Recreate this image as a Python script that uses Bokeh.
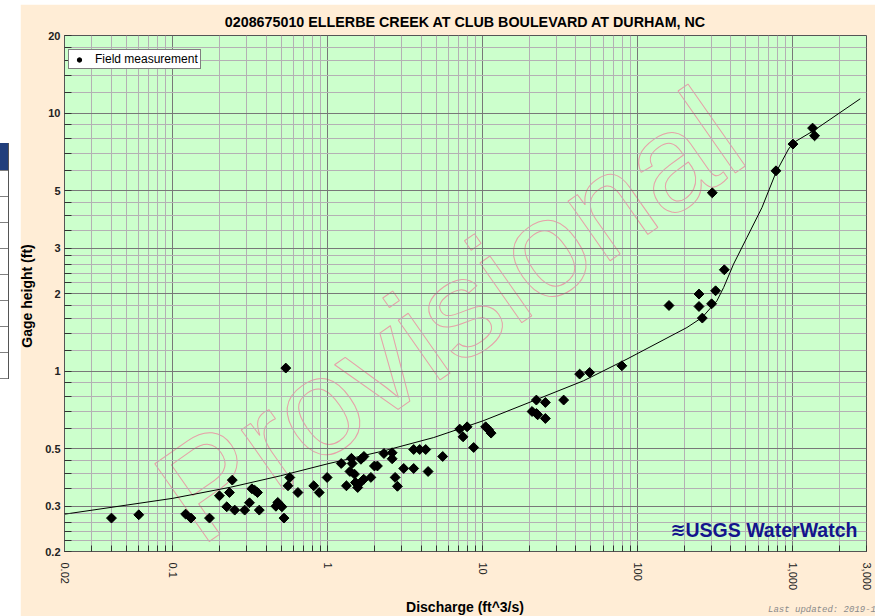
from bokeh.plotting import figure
from bokeh.models import FixedTicker, Legend, LegendItem, Label, Spacer, ColumnDataSource, Div
from bokeh.layouts import row, column
from bokeh.embed import file_html
from bokeh.resources import INLINE

title_text = "0208675010 ELLERBE CREEK AT CLUB BOULEVARD AT DURHAM, NC"
x_label = "Discharge (ft^3/s)"
y_label = "Gage height (ft)"
legend_label = "Field measurement"
watermark_text = "Provisional"
logo_text = "USGS WaterWatch"
updated_text = "Last updated: 2019-1"

# field measurements (discharge, gage height)
meas_q = [0.0402, 0.0603, 0.121, 0.131, 0.1725, 0.200, 0.223, 0.232, 0.242, 0.251,
          0.291, 0.3125, 0.324, 0.338, 0.352, 0.3615, 0.463, 0.476, 0.506, 0.522,
          0.536, 0.554, 0.569, 0.642, 0.812, 0.881, 0.991, 1.222, 1.320, 1.391,
          1.422, 1.437, 1.487, 1.509, 1.561, 1.585, 1.637, 1.712, 1.707, 1.899,
          2.001, 2.092, 2.305, 2.604, 2.604, 2.722, 2.817, 3.093, 3.587, 3.587,
          3.922, 4.288, 4.443, 5.52, 7.105, 7.472, 7.932, 8.747, 10.45, 10.93,
          11.33, 20.83, 22.21, 22.21, 22.64, 25.38, 25.38, 33.31, 42.25, 49.01,
          79.1, 159.4, 248.9, 248.9, 261.5, 300.2, 318.6, 362.6, 303.3, 781.4,
          1006, 1346, 1387]
meas_h = [0.2695, 0.2775, 0.2793, 0.2695, 0.2695, 0.3288, 0.2981, 0.3386, 0.3783, 0.2894,
          0.2894, 0.309, 0.350, 0.3453, 0.3386, 0.2894, 0.2995, 0.3098, 0.2981, 0.2695,
          1.028, 0.3595, 0.3872, 0.3386, 0.3595, 0.3386, 0.3872, 0.4387, 0.3595, 0.4086,
          0.4595, 0.4387, 0.399, 0.3702, 0.3541, 0.365, 0.4555, 0.4672, 0.381, 0.3875,
          0.429, 0.429, 0.4796, 0.4827, 0.4575, 0.3875, 0.3579, 0.4197, 0.497, 0.4195,
          0.497, 0.497, 0.4084, 0.467, 0.5963, 0.5566, 0.6086, 0.506, 0.6086, 0.5925,
          0.5753, 0.6977, 0.7726, 0.6854, 0.6774, 0.7562, 0.6555, 0.7726, 0.9741, 0.9881,
          1.049, 1.797, 1.990, 1.781, 1.606, 1.824, 2.049, 2.471, 4.913, 5.978,
          7.589, 8.753, 8.171]

# rating curve
rating_q = [0.02, 0.1, 0.236, 0.495, 1.0, 2.30, 4.83, 10.06, 21.3, 44.8, 85.4, 208, 261,
            325, 359, 416, 508, 635, 781, 942, 1015, 1366, 2734]
rating_h = [0.279, 0.3215, 0.355, 0.393, 0.4375, 0.491, 0.553, 0.642, 0.768, 0.918, 1.114,
            1.476, 1.615, 1.874, 2.11, 2.60, 3.30, 4.31, 5.89, 7.26, 7.69, 8.55, 11.37]

x_tick_values = [0.02, 0.1, 1, 10, 100, 1000, 3000]
x_tick_labels = ["0.02", "0.1", "1", "10", "100", "1,000", "3,000"]
x_decades = [0.1, 1, 10, 100, 1000]
x_minor_ticks = [0.03, 0.04, 0.05, 0.06, 0.07, 0.08, 0.09,
                 0.2, 0.3, 0.4, 0.5, 0.6, 0.7, 0.8, 0.9,
                 2, 3, 4, 5, 6, 7, 8, 9,
                 20, 30, 40, 50, 60, 70, 80, 90,
                 200, 300, 400, 500, 600, 700, 800, 900, 2000]
y_tick_values = [0.2, 0.3, 0.5, 1, 2, 3, 5, 10, 20]
y_tick_labels = ["0.2", "0.3", "0.5", "1", "2", "3", "5", "10", "20"]
y_grid_major = [0.3, 0.5, 1, 2, 3, 5, 10]
y_minor_ticks = [0.22, 0.24, 0.26, 0.28, 0.35, 0.4, 0.45, 0.6, 0.7, 0.8, 0.9,
                 1.2, 1.4, 1.6, 1.8, 2.2, 2.4, 2.6, 2.8, 3.5, 4, 4.5, 6, 7, 8, 9,
                 12, 14, 16, 18]

FONT = "Liberation Sans"
PEACH = "#FFEDD6"
GREEN = "#CCFFCC"
NAVY = "#14148C"

p = figure(width=855, height=612, x_axis_type="log", y_axis_type="log",
           x_range=(0.02, 3000), y_range=(0.2, 20),
           output_backend="svg", toolbar_location=None,
           min_border_left=44, min_border_right=9, min_border_top=31, min_border_bottom=65)

p.background_fill_color = GREEN
p.border_fill_color = PEACH
p.outline_line_color = "#555555"

p.title.text = title_text
p.title.align = "center"
p.title.text_font = FONT
p.title.text_font_size = "14.3px"
p.title.text_font_style = "bold"
p.title.text_color = "#000000"
p.title.standoff = 12

# grids
p.xgrid.ticker = FixedTicker(ticks=x_decades, minor_ticks=x_minor_ticks)
p.ygrid.ticker = FixedTicker(ticks=y_grid_major, minor_ticks=y_minor_ticks)
for g in (p.xgrid[0], p.ygrid[0]):
    g.grid_line_color = "#787878"
    g.grid_line_width = 1
    g.minor_grid_line_color = "#b4b0b4"
    g.minor_grid_line_width = 1

# axes (titles are placed in the page overlay below for exact positioning)
xa = p.xaxis[0]
xa.ticker = FixedTicker(ticks=x_tick_values, minor_ticks=x_minor_ticks)
xa.major_label_overrides = dict(zip(x_tick_values, x_tick_labels))
xa.major_label_orientation = "vertical"
xa.major_label_standoff = 11
xa.major_label_text_font = FONT
xa.major_label_text_font_size = "11px"
xa.major_label_text_color = "#222222"

ya = p.yaxis[0]
ya.ticker = FixedTicker(ticks=y_tick_values, minor_ticks=y_minor_ticks)
ya.major_label_overrides = dict(zip(y_tick_values, y_tick_labels))
ya.major_label_standoff = 4
ya.major_label_text_font = FONT
ya.major_label_text_font_size = "11px"
ya.major_label_text_font_style = "bold"
ya.major_label_text_color = "#222222"

for a, tl in ((xa, 6), (ya, 7)):
    a.axis_line_color = "#555555"
    a.major_tick_in = tl
    a.major_tick_out = 0
    a.minor_tick_in = tl
    a.minor_tick_out = 0
    a.major_tick_line_color = "#333333"
    a.minor_tick_line_color = "#333333"

# watermark (hollow letters)
wm = Label(x=384.5, y=236.5, x_units="screen", y_units="screen", text=watermark_text,
           angle=35, angle_units="deg", text_font=FONT, text_font_size="138px",
           text_align="center", text_baseline="middle", text_color=GREEN, text_alpha=1,
           text_outline_color="#E6A0A8", level="image")
p.add_layout(wm)

# rating curve and measurements
src = ColumnDataSource(data=dict(q=meas_q, h=meas_h))
p.line(rating_q, rating_h, line_color="black", line_width=1)
dots = p.scatter("q", "h", source=src, marker="circle", size=6,
                 fill_color="black", line_color="black")
p.scatter("q", "h", source=src, marker="square", angle=45, angle_units="deg", size=7,
          fill_color="black", line_color="black", line_width=1, line_join="round")

legend = Legend(items=[LegendItem(label=legend_label, renderers=[dots])],
                location=(4, 482), padding=2, spacing=0, margin=0,
                glyph_width=16, glyph_height=11, label_height=11, label_standoff=8,
                label_text_font=FONT, label_text_font_size="12px", label_text_color="#000000",
                border_line_color="#000000", border_line_width=1,
                background_fill_color="white", background_fill_alpha=1)
p.add_layout(legend)

# logo
p.add_layout(Label(x=606, y=22, x_units="screen", y_units="screen", text="\u224b",
                   text_font="DejaVu Sans", text_font_size="18px", text_font_style="bold",
                   text_color=NAVY, text_baseline="alphabetic"))
p.add_layout(Label(x=621, y=22, x_units="screen", y_units="screen", text=logo_text,
                   text_font=FONT, text_font_size="19.5px", text_font_style="bold",
                   text_color=NAVY, text_baseline="alphabetic"))

# page-edge fragment on the left (white strip with a cut-off table edge),
# plus texts overlaid outside the plot frame (axis titles, last-updated note)
row_lines = [170, 196, 222, 248, 274, 300, 326, 352, 378]
side_html = ('<div style="position:relative;width:20px;height:616px;background:#ffffff;overflow:visible;">'
             '<div style="position:absolute;left:0;top:143px;width:9px;height:27px;background:#213f7c;"></div>'
             + "".join('<div style="position:absolute;left:0;top:%dpx;width:9px;height:1px;background:#808080;"></div>' % yy
                       for yy in row_lines)
             + '<div style="position:absolute;left:8px;top:143px;width:1px;height:236px;background:#555555;"></div>'
             '<span style="position:absolute;left:27px;top:296px;white-space:nowrap;'
             'transform:translate(-50%,-50%) rotate(-90deg);'
             'font-family:\'Liberation Sans\',Arial,sans-serif;font-weight:bold;font-size:14px;line-height:14px;'
             'color:#000000;">' + y_label + '</span>'
             '<span style="position:absolute;left:465px;top:600px;white-space:nowrap;'
             'transform:translateX(-50%);'
             'font-family:\'Liberation Sans\',Arial,sans-serif;font-weight:bold;font-size:14px;line-height:14px;'
             'color:#000000;">' + x_label + '</span>'
             '<span style="position:absolute;left:768px;top:605px;white-space:nowrap;'
             'font-family:\'Liberation Mono\',monospace;font-style:italic;font-size:9px;line-height:10px;'
             'color:#8a8a8a;">' + updated_text + '</span>'
             '</div>')
side = Div(text=side_html, width=20, height=616, margin=0,
           styles={"overflow": "visible", "z-index": "5"},
           stylesheets=[":host { overflow: visible !important; z-index: 5; }"
                        " div { overflow: visible !important; }"])

page = row(side, column(Spacer(width=855, height=4), p))
open("out.html", "w").write(file_html(page, INLINE))
